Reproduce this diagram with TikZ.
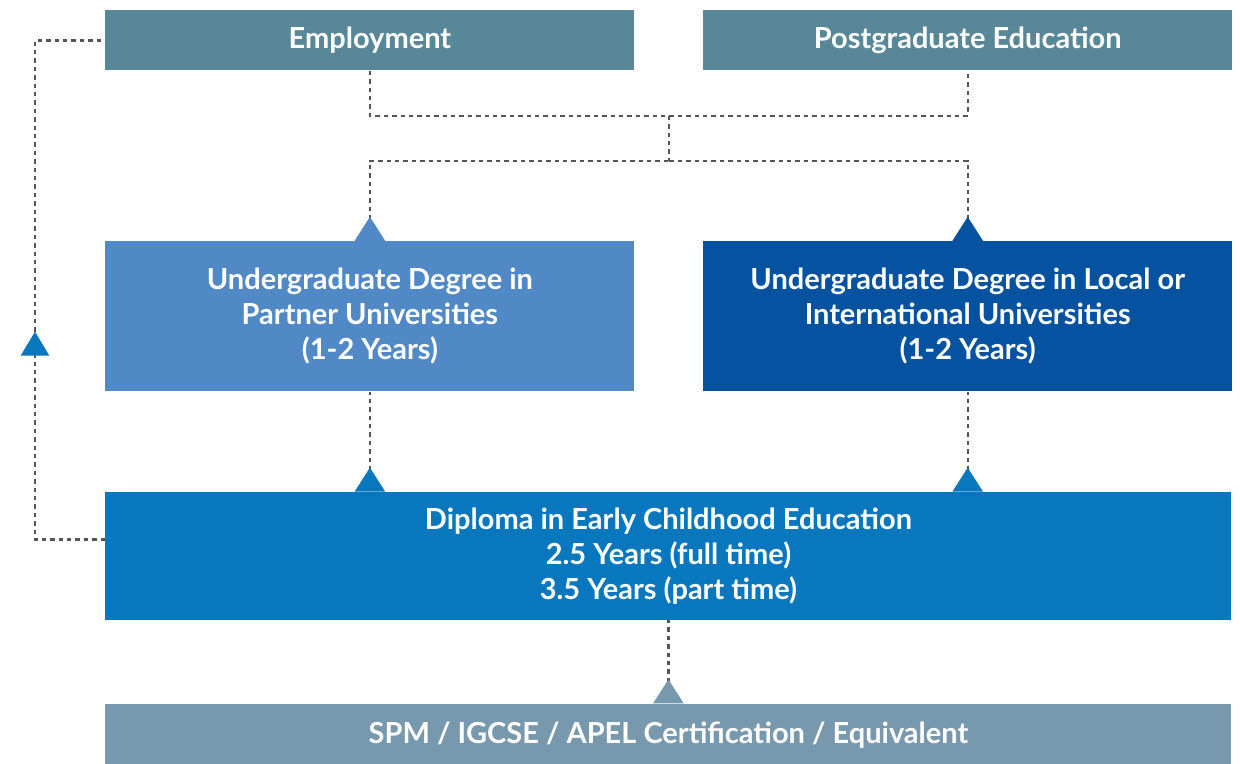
\documentclass[tikz,border=0pt]{standalone}
\usepackage{fontspec}
\setmainfont{Lato}
\usetikzlibrary{arrows.meta,positioning,calc}

\definecolor{empteal}{HTML}{588898}
\definecolor{partblue}{HTML}{5089C6}
\definecolor{localblue}{HTML}{0552A0}
\definecolor{dipblue}{HTML}{0877BD}
\definecolor{spmgray}{HTML}{7898AE}
\definecolor{dashgray}{HTML}{555555}

\tikzset{
  box/.style={fill=#1, text=white, inner sep=0pt, align=center,
    font=\bfseries\fontsize{14.5}{17.5}\selectfont},
  halfbox/.style={box=#1, minimum width=264.5pt},
  fullbox/.style={box=#1, minimum width=563pt},
  link/.style={draw=dashgray, line width=1.2pt, dash pattern=on 2.2pt off 2pt},
  tipfrom/.style={{Triangle[reversed,width=15pt,length=12pt,color=#1]}-}
}

\begin{document}
\begin{tikzpicture}
        \useasboundingbox (0,0) rectangle (620pt,-382pt);
        % boxes
        \node[halfbox=empteal, minimum height=30pt, anchor=north west] (emp) at (52.5pt,-5pt) {Employment};
        \node[halfbox=empteal, minimum height=30pt, right = 34pt of emp] (post) {Postgraduate Education};
        \node[halfbox=partblue, minimum height=75pt, below = 85pt of emp] (partner) {Undergraduate Degree in\\Partner Universities\\(1-2 Years)};
        \node[halfbox=localblue, minimum height=75pt, below = 85pt of post] (local) {Undergraduate Degree in Local or\\International Universities\\(1-2 Years)};
        \node[fullbox=dipblue, minimum height=64pt, below = 50pt of partner.south west, anchor=north west] (dip) {Diploma in Early Childhood Education\\2.5 Years (full time)\\3.5 Years (part time)};
        \node[fullbox=spmgray, minimum height=31.5pt, below = 41.5pt of dip] (spm) {SPM / IGCSE / APEL Certification / Equivalent};
        % top joins
        \coordinate (upjoin) at ($(emp.south)!0.5!(post.south)+(0,-22.5pt)$);
        \coordinate (downjoin) at ($(upjoin)+(0,-22.5pt)$);
        \draw[link] (emp.south) |- (upjoin) -| (post.south);
        \draw[link] (upjoin) -- (downjoin);
        \draw[link,tipfrom=partblue] (partner.north) |- (downjoin);
        \draw[link,tipfrom=localblue] (local.north) |- (downjoin);
        % up from diploma and entry
        \draw[link,tipfrom=dipblue] (partner.south |- dip.north) -- (partner.south);
        \draw[link,tipfrom=dipblue] (local.south |- dip.north) -- (local.south);
        \draw[link,tipfrom=spmgray] (spm.north) -- (dip.south);
        % back to employment
        \coordinate (fbstart) at ([yshift=-24pt]dip.north west);
        \coordinate (fbcorner) at ([xshift=-35pt]fbstart);
        \coordinate (fbmark) at ($(fbcorner)+(0,104pt)$);
        \draw[link,-{Triangle[width=14pt,length=12pt,color=dipblue]}] (fbstart) -- (fbcorner) -- (fbmark);
        \draw[link] (fbmark) |- (emp.west);
      \end{tikzpicture}
\end{document}
